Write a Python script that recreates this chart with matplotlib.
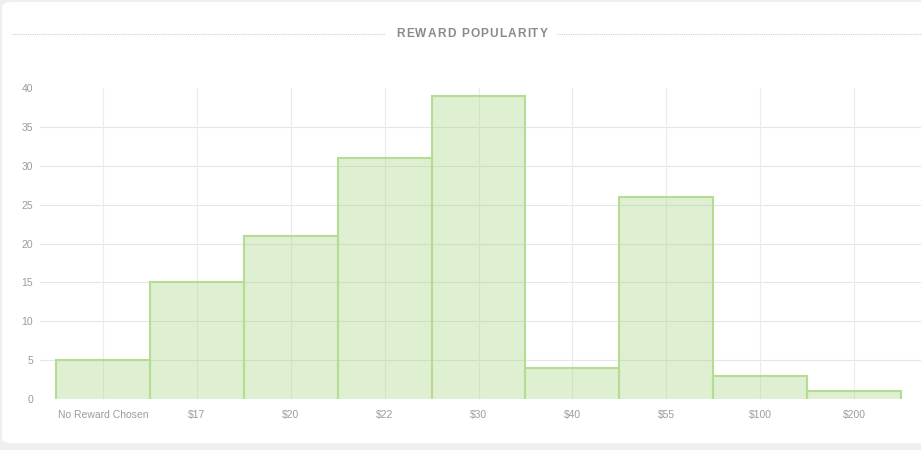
import matplotlib
matplotlib.use('Agg')
import matplotlib.pyplot as plt
from matplotlib.patches import FancyBboxPatch
from matplotlib.lines import Line2D
import numpy as np

rewards = ['No Reward Chosen', '$17', '$20', '$22', '$30', '$40', '$55', '$100', '$200']
counts = [5, 15, 21, 31, 39, 4, 26, 3, 1]
y_ticks = [0, 5, 10, 15, 20, 25, 30, 35, 40]
title = 'REWARD POPULARITY'

W, H = 921, 450
plt.rcParams['font.family'] = ['Liberation Sans', 'DejaVu Sans']

fig = plt.figure(figsize=(W / 100, H / 100), dpi=100)
fig.patch.set_facecolor('#efefef')

# white card
card = FancyBboxPatch((2 / W, 7 / H), 940 / W, 441 / H,
                      boxstyle='round,pad=0,rounding_size=0.012',
                      transform=fig.transFigure, facecolor='white',
                      edgecolor='none', zorder=-5)
fig.patches.append(card)

# axes: left edge at px 40, bars from 56 to 901
ax = fig.add_axes([40 / W, 51 / H, 881 / W, 311 / H])
ax.set_zorder(2)
ax.set_facecolor('none')
px = 94.0
ax.set_xlim(-0.5 - 16 / px, 8.5 + 20 / px)
ax.set_ylim(0, 40)

x = np.arange(len(counts))
for yv in y_ticks[1:-1]:
    ax.axhline(yv, color='#e6e6e6', lw=0.8, zorder=1)
for xv in x:
    ax.axvline(xv, color='#ececec', lw=0.8, zorder=1)

ax.bar(x, counts, width=1.0, color=(151 / 255, 204 / 255, 104 / 255, 0.3),
       edgecolor='none', zorder=2)
for xi, c in zip(x, counts):
    ax.plot([xi - 0.5, xi - 0.5, xi + 0.5, xi + 0.5], [0, c, c, 0],
            color='#b5dc93', lw=1.5, zorder=3, solid_joinstyle='miter')

ax.set_xticks(x)
ax.set_xticklabels(rewards)
ax.set_yticks(y_ticks)
ax.tick_params(axis='both', length=0, labelsize=7.5, labelcolor='#a09a94')
ax.tick_params(axis='x', pad=8)
ax.tick_params(axis='y', pad=5)
for s in ax.spines.values():
    s.set_visible(False)

# title with letter spacing
renderer = fig.canvas.get_renderer()
tprops = dict(fontsize=8.6, fontweight='bold', color='#8a8a8a', va='center')
widths = []
for ch in title:
    t = fig.text(0, 0, ch if ch != ' ' else 'a', **tprops)
    bb = t.get_window_extent(renderer)
    widths.append(bb.width * (0.55 if ch == ' ' else 1.0))
    t.remove()
spacing = 1.1
total = sum(widths) + spacing * (len(title) - 1)
xc, yc = 472, H - 34
xpos = xc - total / 2
for ch, w in zip(title, widths):
    if ch != ' ':
        fig.text(xpos / W, yc / H, ch, ha='left', **tprops)
    xpos += w + spacing

left_end = xc - total / 2 - 12
right_start = xc + total / 2 + 10
fig.lines.append(Line2D([12 / W, left_end / W], [yc / H, yc / H],
                        transform=fig.transFigure, color='#cfcfcf',
                        lw=0.8, ls=(0, (1, 1))))
fig.lines.append(Line2D([right_start / W, 1.0], [yc / H, yc / H],
                        transform=fig.transFigure, color='#cfcfcf',
                        lw=0.8, ls=(0, (1, 1))))

fig.savefig('out.png', dpi=100, facecolor=fig.get_facecolor())
